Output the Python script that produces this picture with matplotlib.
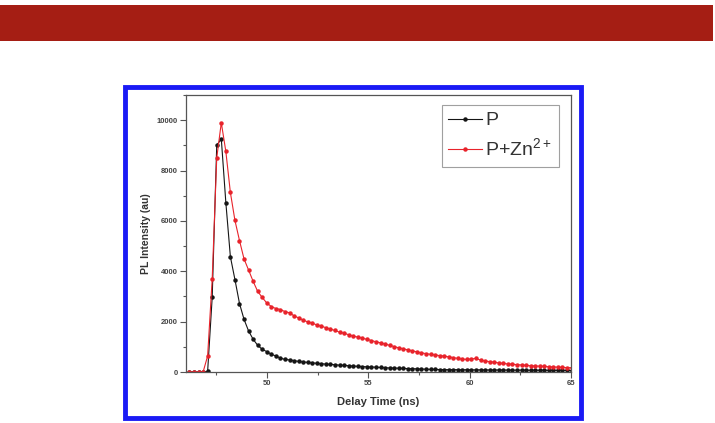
import numpy as np
import matplotlib
matplotlib.use("Agg")
from matplotlib import pyplot as plt
from matplotlib.patches import Rectangle
from matplotlib.ticker import MultipleLocator, AutoMinorLocator

# region Data
# TCSPC channel grid (ns): first channel and channel width
t_first = 46.17
t_step = 0.2245

# P (black)
p_counts = [0, 0, 0, 0, 30, 2970, 9000, 9260, 6730, 4580,
            3670, 2720, 2090, 1630, 1300, 1060, 900, 810, 700, 640,
            550, 500, 480, 450, 420, 400, 380, 360, 345, 330,
            310, 300, 290, 270, 260, 250, 235, 225, 215, 205,
            195, 190, 180, 170, 160, 155, 150, 140, 135, 130,
            125, 115, 110, 105, 100, 98, 95, 92, 95, 90,
            88, 90, 85, 84, 86, 82, 80, 78, 80, 76,
            75, 74, 72, 73, 70, 68, 70, 66, 65, 64,
            62, 63, 60, 60, 58]

# P+Zn2+ (red)
pzn_counts = [0, 0, 0, 0, 640, 3690, 8500, 9900, 8760, 7130,
              6020, 5220, 4490, 4050, 3600, 3200, 2960, 2740, 2600, 2520,
              2480, 2400, 2350, 2230, 2150, 2060, 1990, 1940, 1870, 1820,
              1760, 1700, 1650, 1580, 1540, 1480, 1420, 1390, 1340, 1300,
              1250, 1200, 1160, 1110, 1060, 1010, 960, 920, 880, 840,
              800, 760, 730, 700, 680, 650, 630, 600, 570, 540,
              510, 500, 520, 540, 470, 440, 410, 390, 360, 340,
              320, 310, 290, 280, 260, 250, 240, 230, 220, 210,
              200, 190, 180, 175, 170]

delay = np.round(t_first + t_step * np.arange(len(p_counts)), 3)
# endregion

plt.rcParams['font.family'] = ['Liberation Sans', 'DejaVu Sans']
plt.rcParams['mathtext.fontset'] = 'custom'
plt.rcParams['mathtext.rm'] = 'Liberation Sans'

fig = plt.figure(figsize=(7.15, 4.23), dpi=100)
W, H = 715.0, 423.0

# region Decorations (banner + blue frame), kept behind the axes
fig.patches.append(Rectangle((0, 1 - 41 / H), 713 / W, 36 / H, transform=fig.transFigure,
                             facecolor='#a51e14', edgecolor='none', zorder=-5))
fig.patches.append(Rectangle((124.5 / W, 1 - 418 / H), 456 / W, 331 / H, transform=fig.transFigure,
                             facecolor='white', edgecolor='#1a1af5', linewidth=3.5, zorder=-5))
# endregion

# region Graph
ax = fig.add_axes([186 / W, 1 - 372 / H, 385 / W, 277 / H])
ax.set_zorder(2)
ax.plot(delay, p_counts, '-', color='#151515', lw=0.8, marker='o', ms=2.2, label='P')
ax.plot(delay, pzn_counts, '-', color='#e8232b', lw=0.8, marker='o', ms=2.2,
        label='P+Zn$^{\\mathregular{2+}}$')

ax.set_xlim(46, 65)
ax.set_ylim(0, 11000)
ax.xaxis.set_major_locator(MultipleLocator(5))
ax.xaxis.set_minor_locator(AutoMinorLocator(2))
ax.yaxis.set_major_locator(MultipleLocator(2000))
ax.yaxis.set_minor_locator(AutoMinorLocator(2))
ax.tick_params(which='both', direction='out', color='#555555', width=0.8)
ax.tick_params(which='major', length=4, labelsize=5.5, labelcolor='#444444', pad=2)
ax.tick_params(which='minor', length=2.5)
for lab in ax.get_xticklabels() + ax.get_yticklabels():
    lab.set_fontweight('bold')
for s in ax.spines.values():
    s.set_color('#555555')
    s.set_linewidth(0.9)

ax.set_xlabel('Delay Time (ns)', fontsize=8, fontweight='bold', color='#333333', labelpad=7)
ax.set_ylabel('PL Intensity (au)', fontsize=7.5, fontweight='bold', color='#333333', labelpad=4)

leg = ax.legend(loc='upper right', fontsize=14, frameon=True, fancybox=False,
                handlelength=1.7, handletextpad=0.2, borderpad=0.35, labelspacing=0.4,
                borderaxespad=0, bbox_to_anchor=(0.969, 0.964))
leg.get_frame().set_edgecolor('#888888')
leg.get_frame().set_linewidth(0.8)
for txt in leg.get_texts():
    txt.set_color('#333333')
# endregion

fig.savefig('out.png', dpi=100)
